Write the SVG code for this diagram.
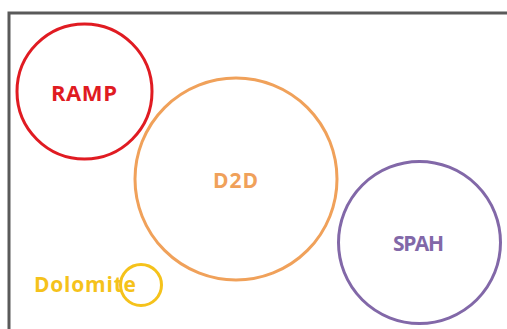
<svg xmlns="http://www.w3.org/2000/svg" width="507" height="329" viewBox="0 0 507 329">
  <style>
    .ring { fill: none; stroke-width: 3; }
    .label { font-family: "Open Sans", "Liberation Sans", sans-serif; font-weight: bold; text-anchor: middle; }
  </style>
  <rect width="507" height="329" fill="#ffffff"/>
  <!-- frame -->
  <path d="M9 330 V13 H510" fill="none" stroke="#5a5a5a" stroke-width="3"/>
  <g id="ramp">
    <circle class="ring" cx="84.5" cy="91.5" r="67.5" stroke="#e01b22"/>
    <text class="label" x="84" y="101" font-size="22" fill="#e01b22" textLength="66">RAMP</text>
  </g>
  <g id="d2d">
    <circle class="ring" cx="236" cy="179" r="101" stroke="#f0a15a"/>
    <text class="label" x="235.5" y="187.5" font-size="21" fill="#f0a15a" textLength="45">D2D</text>
  </g>
  <g id="spah">
    <circle class="ring" cx="419.5" cy="242.5" r="81" stroke="#8268a8"/>
    <text class="label" x="418.5" y="251" font-size="21" fill="#8268a8" textLength="51">SPAH</text>
  </g>
  <g id="dolomite">
    <circle class="ring" cx="141" cy="285" r="20.5" stroke="#f5c21b"/>
    <text class="label" x="85" y="292" font-size="21" fill="#f5c21b" textLength="102">Dolomite</text>
  </g>
</svg>
